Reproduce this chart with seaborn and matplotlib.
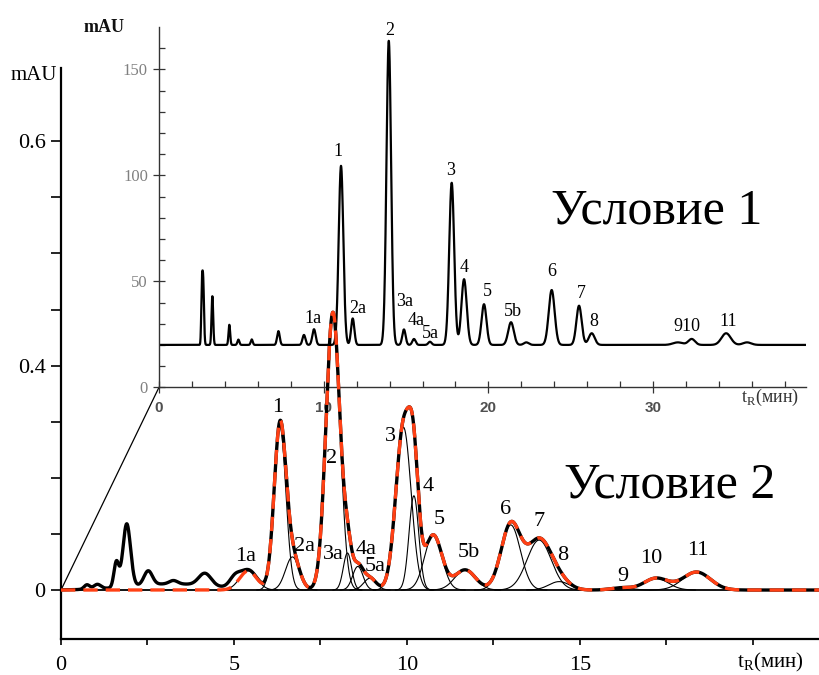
import numpy as np
import pandas as pd
import matplotlib
matplotlib.use("Agg")
import matplotlib.pyplot as plt
import seaborn as sns
from matplotlib.patches import ConnectionPatch
from matplotlib.ticker import FixedLocator

# ---------------- data: Условие 2 (main chart, fitted peaks) ----------------
main_peaks = ['1a', '1', '2a', '2', '3a', '4a', '5a', '3', '4', '5', '5b', '6', '7', '8', '9', '10', '11']
main_rt = [5.41, 6.33, 6.69, 7.86, 8.28, 8.58, 8.93, 9.90, 10.20, 10.76, 11.68, 13.00, 13.82, 14.40, 16.20, 17.20, 18.37]
main_height = [0.034, 0.29, 0.059, 0.495, 0.066, 0.042, 0.021, 0.29, 0.168, 0.098, 0.036, 0.116, 0.089, 0.015, 0.004, 0.021, 0.032]
main_sigma = [0.25, 0.17, 0.20, 0.20, 0.12, 0.15, 0.18, 0.22, 0.14, 0.25, 0.30, 0.28, 0.35, 0.30, 0.30, 0.35, 0.40]

# early (unfitted) part of the experimental trace, Условие 2
early_rt = [0.75, 1.05, 1.60, 1.90, 2.52, 3.25, 4.16, 5.02, 3.20]
early_height = [0.008, 0.008, 0.045, 0.112, 0.025, 0.006, 0.022, 0.015, 0.011]
early_sigma = [0.08, 0.10, 0.07, 0.11, 0.12, 0.12, 0.18, 0.15, 1.20]

# ---------------- data: Условие 1 (inset chromatogram) ----------------
ins_baseline = 20.0
ins_rt = [2.60, 2.68, 3.24, 4.27, 4.82, 5.63, 7.25, 8.80, 9.41, 11.05, 11.76, 13.95, 14.87, 15.48, 16.45,
          17.77, 18.52, 19.73, 21.37, 22.30, 23.84, 25.50, 26.27, 31.50, 32.34, 34.43, 35.70]
ins_height = [22, 30, 23, 9.5, 2.5, 2.6, 6.5, 4.7, 7.4, 84.5, 12.5, 143.5, 7.3, 2.8, 1.5,
              76.5, 31, 19.2, 10.7, 1.2, 25.9, 18.5, 5.5, 1.2, 2.8, 5.5, 1.2]
ins_sigma = [0.04, 0.05, 0.05, 0.05, 0.06, 0.06, 0.08, 0.09, 0.10, 0.14, 0.10, 0.14, 0.10, 0.10, 0.10,
             0.15, 0.16, 0.15, 0.17, 0.15, 0.18, 0.16, 0.18, 0.30, 0.20, 0.28, 0.25]

# peak labels
main_label_text = ['1a', '1', '2a', '2', '3a', '4a', '5a', '3', '4', '5', '5b', '6', '7', '8', '9', '10', '11']
main_label_t = [5.35, 6.25, 7.05, 7.82, 7.87, 8.81, 9.08, 9.51, 10.62, 10.93, 11.79, 12.85, 13.82, 14.49, 16.25, 17.07, 18.40]
main_label_v = [0.059, 0.326, 0.077, 0.235, 0.064, 0.073, 0.042, 0.273, 0.184, 0.126, 0.066, 0.144, 0.123, 0.062, 0.024, 0.057, 0.070]

ins_label_text = ['1a', '1', '2a', '2', '3a', '4a', '5a', '3', '4', '5', '5b', '6', '7', '8', '910', '11']
ins_label_t = [9.37, 10.89, 12.04, 13.98, 14.94, 15.60, 16.45, 17.71, 18.52, 19.93, 21.48, 23.86, 25.62, 26.37, 32.04, 34.53]
ins_label_v = [32.5, 111.1, 37.3, 168.5, 40.4, 31.4, 25.5, 102.5, 56.4, 45.1, 35.7, 54.5, 44.3, 30.9, 28.6, 30.9]

main_ytick_pos = [0.0, 0.4, 0.8]
main_ytick_lab = ['0', '0.4', '0.6']
main_xtick_pos = [0, 5, 10, 15, 20]
main_xtick_lab = ['0', '5', '10', '15', '']


def gauss(t, c, h, s):
    return h * np.exp(-0.5 * ((t - c) / s) ** 2)


# ---------------- build curves ----------------
t_main = np.linspace(0, 21.91, 2500)
comp_frames = []
fit_sum = np.zeros_like(t_main)
for name, c, h, s in zip(main_peaks, main_rt, main_height, main_sigma):
    g = gauss(t_main, c, h, s)
    fit_sum += g
    comp_frames.append(pd.DataFrame({'t': t_main, 'v': g, 'peak': name}))
comp_df = pd.concat(comp_frames, ignore_index=True)
comp_df = comp_df[comp_df['v'] > 1e-4]

early = np.zeros_like(t_main)
for c, h, s in zip(early_rt, early_height, early_sigma):
    early += gauss(t_main, c, h, s)
exp_df = pd.DataFrame({'t': t_main, 'v': fit_sum + early})
fit_df = pd.DataFrame({'t': t_main, 'v': fit_sum})

t_ins = np.linspace(0, 39.28, 5000)
ins_v = np.full_like(t_ins, ins_baseline)
for c, h, s in zip(ins_rt, ins_height, ins_sigma):
    ins_v += gauss(t_ins, c, h, s)
ins_df = pd.DataFrame({'t': t_ins, 'v': ins_v})

# ---------------- figure ----------------
sns.set_theme(style="ticks")
plt.rcParams['font.family'] = ['Liberation Serif', 'DejaVu Serif']
plt.rcParams['mathtext.fontset'] = 'custom'
plt.rcParams['mathtext.rm'] = 'Liberation Serif'
plt.rcParams['text.color'] = 'black'
plt.rcParams['xtick.labelcolor'] = 'black'
plt.rcParams['ytick.labelcolor'] = 'black'

fig = plt.figure(figsize=(8.19, 6.75), dpi=100)
ins = fig.add_axes([0.19414, 0.42622, 0.79, 0.53378])
ax = fig.add_axes([0.07448, 0.05333, 0.92552, 0.84593])
ins.set_zorder(1)
ax.set_zorder(2)
ax.patch.set_visible(False)
ins.patch.set_visible(False)

# ---- inset (Условие 1)
sns.lineplot(data=ins_df, x='t', y='v', ax=ins, color='black', lw=1.6, estimator=None)
ins.set_xlim(0, 39.28)
ins.set_ylim(0, 170)
ins.set_xlabel('')
ins.set_ylabel('')
for sp in ['top', 'right']:
    ins.spines[sp].set_visible(False)
for sp in ['left', 'bottom']:
    ins.spines[sp].set_linewidth(1.0)
    ins.spines[sp].set_color('#333333')
ins.xaxis.set_major_locator(FixedLocator([0, 10, 20, 30]))
ins.xaxis.set_minor_locator(FixedLocator([2, 4, 6, 8, 12, 14, 16, 18, 22, 24, 26, 28, 32, 34, 36, 38]))
ins.yaxis.set_major_locator(FixedLocator([0, 50, 100, 150]))
ins.yaxis.set_minor_locator(FixedLocator([10, 20, 30, 40, 60, 70, 80, 90, 110, 120, 130, 140, 160]))
ins.tick_params(which='major', direction='inout', length=8, width=0.9, color='#333333')
ins.tick_params(which='minor', direction='in', length=4, width=0.9, color='#333333')
ins.tick_params(axis='y', labelsize=12, labelcolor='#808080', pad=4)
ins.tick_params(axis='x', labelsize=11, labelcolor='#505050', pad=6)
for lab in ins.get_xticklabels():
    lab.set_fontfamily('Liberation Sans')
    lab.set_fontweight('bold')
for txt, tt, vv in zip(ins_label_text, ins_label_t, ins_label_v):
    ins.text(tt, vv, txt, ha='center', va='center', fontsize=13, color='black')
ins.text(-0.085, 1.0, 'mAU', transform=ins.transAxes, ha='center', va='center',
         fontsize=13, fontweight='bold', color='#111111')
ins.text(37.1, -4.9, r't$_\mathregular{R}$(мин)', ha='center', va='center', fontsize=13, color='#333333')

# ---- main (Условие 2)
ax.axhline(0, color='black', lw=1.3, zorder=1)
sns.lineplot(data=comp_df, x='t', y='v', units='peak', estimator=None, ax=ax,
             color='black', lw=0.8, zorder=2)
sns.lineplot(data=exp_df, x='t', y='v', ax=ax, color='black', lw=2.4, estimator=None, zorder=3)
sns.lineplot(data=fit_df, x='t', y='v', ax=ax, color='#ff4014', lw=2.4, estimator=None, zorder=4,
             linestyle=(0, (4.3, 2.4)))
ax.set_xlim(0, 21.91)
ax.set_ylim(-0.0873, 0.9305)
ax.set_xlabel('')
ax.set_ylabel('')
for sp in ['top', 'right']:
    ax.spines[sp].set_visible(False)
for sp in ['left', 'bottom']:
    ax.spines[sp].set_linewidth(1.6)
    ax.spines[sp].set_color('black')
ax.yaxis.set_major_locator(FixedLocator(main_ytick_pos))
ax.set_yticklabels(main_ytick_lab)
ax.yaxis.set_minor_locator(FixedLocator([0.1, 0.2, 0.3, 0.5, 0.6, 0.7]))
ax.xaxis.set_major_locator(FixedLocator(main_xtick_pos))
ax.set_xticklabels(main_xtick_lab)
ax.xaxis.set_minor_locator(FixedLocator([2.5, 7.5, 12.5, 17.5]))
ax.tick_params(axis='y', which='both', direction='out', length=7, width=1.2, color='black',
               labelsize=16, pad=4, labelcolor='black')
ax.tick_params(axis='x', which='both', direction='out', length=4.5, width=1.2, color='black',
               labelsize=16, pad=8, labelcolor='black')
for txt, tt, vv in zip(main_label_text, main_label_t, main_label_v):
    ax.text(tt, vv, txt, ha='center', va='center', fontsize=16, color='black', zorder=6)

fig.text(33.5 / 819, 1 - 76 / 675, 'mAU', ha='center', va='center', fontsize=15, color='black')
fig.text(770 / 819, 1 - 662 / 675, r't$_\mathregular{R}$(мин)', ha='center', va='center',
         fontsize=15, color='black')

fig.text(656.7 / 819, 1 - 223 / 675, 'Условие 1', ha='center', va='baseline', fontsize=36, color='black')
fig.text(670 / 819, 1 - 497 / 675, 'Условие 2', ha='center', va='baseline', fontsize=36, color='black')

cp = ConnectionPatch(xyA=(0, 0), coordsA=ax.transData, xyB=(0, 0), coordsB=ins.transData,
                     color='black', lw=0.9)
fig.add_artist(cp)

fig.savefig('out.png', dpi=100)
